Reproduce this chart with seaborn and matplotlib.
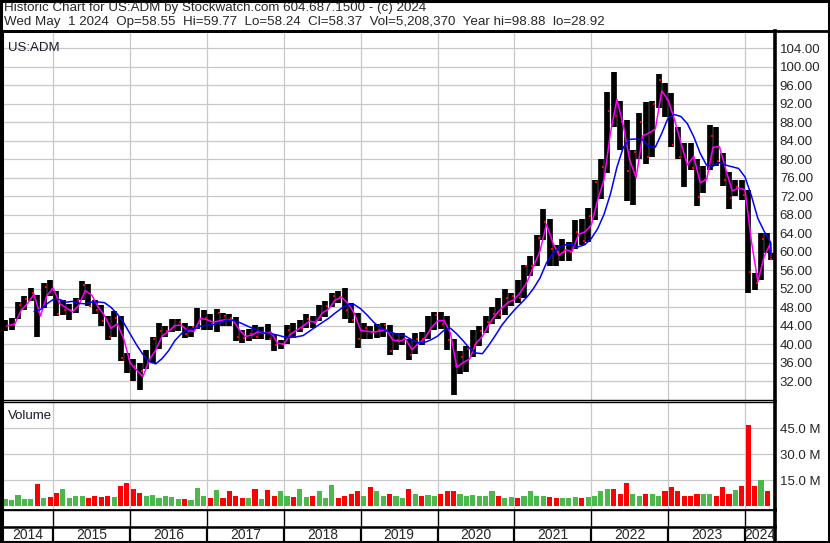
import numpy as np
import pandas as pd
import matplotlib

matplotlib.use("Agg")
import matplotlib.pyplot as plt
from matplotlib.lines import Line2D
import seaborn as sns

sns.set_style("white")
plt.rcParams["font.family"] = ["Liberation Sans", "DejaVu Sans"]

# Monthly bars, May 2014 .. May 2024 (the last month is a single session)
months = pd.date_range("2014-05-01", "2024-05-01", freq="MS")

highs = [
    45.2, 45.7, 49.2, 50.3, 52.2, 50.5, 53.2, 53.9, 51.5, 49.5, 48.6, 50.0,
    53.6, 53.0, 49.5, 48.5, 46.0, 47.2, 46.0, 38.0, 36.8, 35.8, 38.8, 41.5,
    44.5, 44.0, 45.5, 45.4, 44.5, 44.0, 47.8, 47.4, 46.5, 47.6, 46.8, 46.5,
    45.8, 43.0, 43.2, 44.2, 43.6, 44.4, 42.0, 40.9, 44.2, 44.5, 45.3, 46.4,
    46.0, 48.5, 49.3, 51.0, 51.4, 52.2, 48.8, 46.7, 44.5, 44.0, 44.3, 44.6,
    44.2, 42.4, 42.4, 41.0, 42.4, 42.6, 46.0, 47.0, 47.0, 46.0, 41.0, 38.5,
    39.5, 43.1, 43.8, 46.0, 48.1, 50.0, 51.8, 51.0, 53.8, 57.0, 59.0, 63.5,
    69.3, 67.0, 61.5, 62.8, 62.0, 66.9, 67.0, 69.5, 75.5, 80.0, 94.5, 98.88,
    92.5, 88.5, 82.0, 90.0, 92.3, 92.5, 98.5, 96.5, 94.3, 87.0, 83.5, 83.5,
    80.0, 78.4, 87.4, 87.0, 81.4, 77.1, 75.5, 75.5, 73.4, 55.3, 64.0, 64.0,
    59.77,
]
lows = [
    42.8, 43.0, 45.5, 47.3, 49.3, 41.6, 47.8, 50.3, 46.0, 46.2, 45.3, 46.8,
    49.5, 48.2, 46.6, 43.8, 40.8, 41.5, 36.3, 33.8, 32.0, 30.1, 34.5, 35.8,
    39.0, 41.5, 42.5, 42.8, 41.3, 41.5, 43.3, 43.1, 43.0, 42.5, 43.8, 44.0,
    40.6, 40.3, 40.7, 41.2, 41.0, 40.8, 38.4, 39.0, 40.0, 41.5, 42.5, 43.5,
    43.4, 45.0, 45.8, 48.0, 48.9, 45.5, 44.5, 39.2, 41.0, 41.2, 41.3, 41.6,
    37.6, 38.8, 39.8, 36.6, 37.8, 39.8, 41.0, 43.0, 43.2, 38.8, 28.92, 33.5,
    34.0, 37.3, 39.5, 42.4, 44.4, 45.5, 46.2, 48.3, 48.8, 50.0, 54.8, 56.8,
    62.5, 56.8, 56.8, 58.0, 58.0, 60.5, 61.5, 62.0, 66.8, 71.3, 77.0, 87.0,
    82.0, 71.0, 70.0, 80.0, 79.0, 80.5, 91.0, 89.0, 82.7, 80.0, 74.0, 77.7,
    69.8, 72.7, 77.7, 78.4, 74.1, 69.1, 72.0, 71.2, 51.0, 51.7, 53.9, 59.7,
    58.24,
]
closes = [
    44.0, 44.1, 48.5, 49.7, 51.1, 47.0, 52.4, 52.0, 46.6, 47.4, 47.4, 49.5,
    52.8, 48.2, 47.4, 45.0, 41.5, 45.7, 36.9, 36.7, 35.3, 34.2, 36.3, 41.0,
    42.8, 42.9, 43.8, 44.8, 42.2, 43.6, 44.5, 45.6, 44.3, 46.8, 46.0, 45.7,
    41.5, 41.4, 42.2, 41.5, 42.5, 41.0, 39.8, 40.1, 43.0, 41.6, 43.4, 45.4,
    44.5, 45.8, 48.2, 50.3, 50.2, 47.3, 45.2, 41.0, 43.5, 42.5, 43.1, 44.2,
    38.6, 40.8, 41.0, 37.6, 41.1, 41.0, 43.0, 46.3, 44.4, 40.8, 35.2, 37.2,
    38.9, 39.9, 42.8, 44.8, 46.5, 46.2, 49.9, 50.4, 50.0, 56.8, 56.9, 62.9,
    66.5, 60.6, 60.0, 60.0, 60.0, 64.3, 62.3, 67.6, 75.0, 78.3, 90.3, 89.3,
    88.0, 77.5, 81.5, 88.0, 80.5, 92.0, 97.0, 93.0, 83.0, 80.5, 79.7, 78.0,
    71.7, 75.5, 85.0, 79.5, 75.4, 71.6, 74.0, 72.2, 55.5, 53.2, 62.8, 61.0,
    58.37,
]
# busiest session of each month, millions of shares
volumes = [
    4.0, 3.5, 6.5, 4.5, 4.5, 13.0, 5.0, 5.5, 8.0, 10.0, 5.0, 6.0,
    6.0, 5.0, 6.0, 5.5, 6.0, 5.5, 11.5, 13.5, 10.0, 8.0, 6.0, 6.5,
    5.0, 6.0, 5.5, 4.5, 4.0, 3.5, 10.5, 6.0, 5.0, 9.5, 5.0, 9.0,
    6.0, 5.0, 5.0, 10.0, 4.5, 9.5, 6.0, 8.8, 6.0, 5.5, 10.0, 5.5,
    6.0, 8.8, 5.0, 12.5, 5.0, 6.0, 7.0, 8.8, 6.0, 11.0, 8.8, 6.0,
    7.0, 6.0, 5.0, 10.0, 7.0, 6.0, 6.5, 6.0, 7.0, 9.0, 9.0, 7.0,
    6.0, 6.5, 6.0, 6.0, 8.7, 6.0, 5.0, 5.5, 5.0, 6.0, 8.8, 6.0,
    6.0, 5.5, 5.0, 5.0, 5.0, 5.5, 5.0, 5.5, 6.0, 8.8, 10.0, 10.0,
    7.0, 13.5, 7.0, 6.0, 7.0, 7.0, 6.0, 8.8, 11.0, 8.6, 6.0, 6.0,
    7.0, 7.0, 7.0, 6.0, 11.0, 7.0, 9.6, 12.0, 47.0, 11.8, 15.0, 8.7,
    5.2,
]

price_ticks = list(range(32, 105, 4))
vol_ticks = [15, 30, 45]
years = list(range(2014, 2025))

header_1 = "Historic Chart for US:ADM by Stockwatch.com 604.687.1500 - (c) 2024"
header_2 = ("Wed May  1 2024  Op=58.55  Hi=59.77  Lo=58.24  Cl=58.37  "
            "Vol=5,208,370  Year hi=98.88  lo=28.92")

df = pd.DataFrame({"date": months, "high": highs, "low": lows,
                   "close": closes, "volume": volumes})
df["t"] = df["date"].dt.year + (df["date"].dt.month - 1) / 12
df["w"] = 1 / 12
df.loc[df.index[-1], "w"] = 0.006
df["mid"] = df["t"] + df["w"] / 2
df["end"] = df["t"] + df["w"]
df["avg"] = (df["high"] + df["low"]) / 2
df["ma_slow"] = df["avg"].rolling(5).mean()
df["up"] = df["close"].diff().fillna(0) >= 0

W, H = 830, 543
fig = plt.figure(figsize=(W / 100, H / 100), dpi=100)


def box(x0, y0, x1, y1):
    # pixel box (top-left origin) -> figure fraction rect
    return [x0 / W, 1 - y1 / H, (x1 - x0) / W, (y1 - y0) / H]


ax = fig.add_axes(box(2, 31, 775, 400))
ax_v = fig.add_axes(box(2, 402, 775, 509.5))
ax_r = fig.add_axes(box(2, 509.5, 775, 527))
ax_y = fig.add_axes(box(2, 527, 775, 541.5))

xmin, xmax = 2014.333, 2024.39
grid_c = "#c8c8c8"

# ---- price panel
ax.set_xlim(xmin, xmax)
ax.set_ylim(27.9, 107.7)
for p in price_ticks:
    ax.axhline(p, color=grid_c, lw=0.9, zorder=0)
for yr in years[1:]:
    ax.axvline(yr, color=grid_c, lw=0.9, zorder=0)

ax.vlines(df["mid"], df["low"], df["high"], color="black", lw=4.1, zorder=2)
ax.scatter(df["mid"] + df["w"] * 0.3, df["close"], marker="s", s=2.5,
           color="red", linewidths=0, zorder=3)
sns.lineplot(data=df, x="end", y="avg", color="#ff00ff", lw=1.1, ax=ax, zorder=4)
sns.lineplot(data=df.dropna(subset=["ma_slow"]), x="end", y="ma_slow",
             color="#0000ff", lw=1.1, ax=ax, zorder=5)

ax.yaxis.tick_right()
ax.set_yticks(price_ticks)
ax.set_yticklabels([f"{p:.2f}" for p in price_ticks])
ax.tick_params(axis="y", length=0, pad=3.5, labelsize=9.5)
ax.set_xticks([])
ax.set_xlabel("")
ax.set_ylabel("")
ax.text(0.008, 0.97, "US:ADM", transform=ax.transAxes, fontsize=9.5,
        va="top", ha="left", color="#1a1a2a")

# ---- volume panel
ax_v.set_xlim(xmin, xmax)
ax_v.set_ylim(-1.8, 60.3)
for v in vol_ticks:
    ax_v.axhline(v, color=grid_c, lw=0.9, zorder=0)
for yr in years[1:]:
    ax_v.axvline(yr, color=grid_c, lw=0.9, zorder=0)
vol_colors = np.where(df["up"], "#4cb84c", "#ff0000")
ax_v.bar(df["mid"], df["volume"], width=df["w"] * 0.8, color=vol_colors,
         bottom=0, zorder=2, linewidth=0)
ax_v.yaxis.tick_right()
ax_v.set_yticks(vol_ticks)
ax_v.set_yticklabels([f"{v:.1f} M" for v in vol_ticks])
ax_v.tick_params(axis="y", length=0, pad=3.5, labelsize=9.5)
ax_v.set_xticks([])
ax_v.text(0.008, 0.93, "Volume", transform=ax_v.transAxes, fontsize=9.5,
          va="top", ha="left", color="#1a1a2a")

# ---- empty row and year labels
for a in (ax_r, ax_y):
    a.set_xlim(xmin, xmax)
    a.set_ylim(0, 1)
    a.set_xticks([])
    a.set_yticks([])
for yr in years[1:]:
    ax_r.axvline(yr, color="black", lw=1.0)
    ax_y.axvline(yr, color="black", lw=1.6)
for yr in years:
    lo = max(yr, xmin)
    hi = min(yr + 1, xmax)
    ax_y.text((lo + hi) / 2, 0.45, str(yr), ha="center", va="center", fontsize=10)

# spines
for a in (ax, ax_v, ax_r, ax_y):
    for s in a.spines.values():
        s.set_color("black")
        s.set_linewidth(1.0)
    a.spines["left"].set_linewidth(2.2)
    a.spines["right"].set_linewidth(2.6)
ax.spines["top"].set_linewidth(2.0)
ax_v.spines["bottom"].set_linewidth(2.0)
ax_y.spines["top"].set_linewidth(1.8)
ax_y.spines["bottom"].set_linewidth(2.2)

# outer frame and header rule
fig.add_artist(Line2D([0, 1], [1 - 31 / H, 1 - 31 / H], color="black", lw=2.0))
for xs, ys in (([0.0012, 0.0012], [0, 1]), ([0.9985, 0.9985], [0, 1]),
               ([0, 1], [0.002, 0.002]), ([0, 1], [0.998, 0.998])):
    fig.add_artist(Line2D(xs, ys, color="black", lw=2.2))

fig.text(4 / W, 1 - 8.5 / H, header_1, fontsize=9.6, va="center", ha="left")
fig.text(4 / W, 1 - 22 / H, header_2, fontsize=9.6, va="center", ha="left")

fig.savefig("out.png", dpi=100)
